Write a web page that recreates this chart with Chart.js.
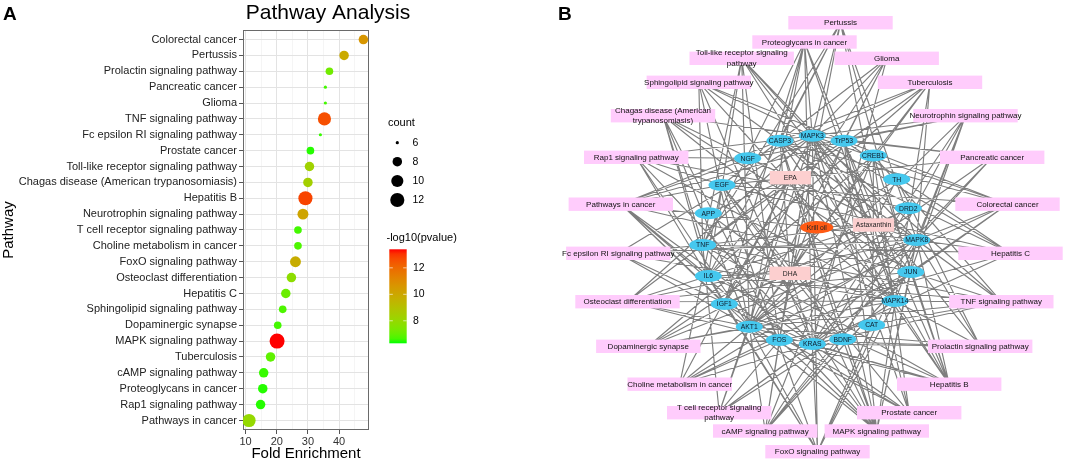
<!DOCTYPE html>
<html><head><meta charset="utf-8">
<script src="https://cdn.jsdelivr.net/npm/chart.js@4.4.0/dist/chart.umd.min.js"></script>
<style>
html,body{margin:0;padding:0;background:#fff;width:1065px;height:463px;overflow:hidden;font-family:"Liberation Sans",Arial,sans-serif;}
#wa{position:absolute;left:0;top:0;width:550px;height:463px;}
#wb{position:absolute;left:550px;top:0;width:515px;height:463px;}
</style></head><body>
<div id="wa"><canvas id="ca" width="550" height="463"></canvas></div>
<div id="wb"><canvas id="cb" width="515" height="463"></canvas></div>
<script>
// ---------------- Panel A data ----------------
const categories = ["Colorectal cancer","Pertussis","Prolactin signaling pathway","Pancreatic cancer","Glioma","TNF signaling pathway","Fc epsilon RI signaling pathway","Prostate cancer","Toll-like receptor signaling pathway","Chagas disease (American trypanosomiasis)","Hepatitis B","Neurotrophin signaling pathway","T cell receptor signaling pathway","Choline metabolism in cancer","FoxO signaling pathway","Osteoclast differentiation","Hepatitis C","Sphingolipid signaling pathway","Dopaminergic synapse","MAPK signaling pathway","Tuberculosis","cAMP signaling pathway","Proteoglycans in cancer","Rap1 signaling pathway","Pathways in cancer"];
const foldEnrichment = [47.8,41.6,36.9,35.6,35.6,35.3,34.0,30.8,30.5,30.0,29.2,28.4,26.8,26.8,26.0,24.7,22.9,21.9,20.3,20.1,18.0,15.8,15.5,14.8,11.1];
const geneCount = [8,8,7,6,6,11,6,7,8,8,12,9,7,7,9,8,8,7,7,13,8,8,8,8,11];
const negLog10P = [10.6,9.9,7.2,6.6,6.6,12.6,6.5,6.4,8.3,8.4,12.8,10.1,6.6,6.7,9.8,7.8,7.1,6.7,6.6,13.4,6.9,6.5,6.4,6.4,8.0];
const xTickValues = [10,15,20,25,30,35,40,45];
const countLegendValues = [6,8,10,12];
const colorbarLabels = [8,10,12];
const pRange = [6.3,13.4];

// ---------------- Panel B data ----------------
const networkPathways = ["Pertussis","Proteoglycans in cancer","Toll-like receptor signaling\npathway","Glioma","Sphingolipid signaling pathway","Tuberculosis","Chagas disease (American\ntrypanosomiasis)","Neurotrophin signaling pathway","Rap1 signaling pathway","Pancreatic cancer","Pathways in cancer","Colorectal cancer","Fc epsilon RI signaling pathway","Hepatitis C","Osteoclast differentiation","TNF signaling pathway","Dopaminergic synapse","Prolactin signaling pathway","Choline metabolism in cancer","Hepatitis B","T cell receptor signaling\npathway","Prostate cancer","cAMP signaling pathway","MAPK signaling pathway","FoxO signaling pathway"];
const pathwayNodeX = [840.5,804.5,741.7,886.7,698.8,930,663,965.5,636.2,992.2,620.8,1007.5,618.3,1010.5,627.5,1001.3,648.3,980.2,679.7,949.2,719.2,909.2,765.2,876.8,817.5];
const pathwayNodeY = [22.7,42,58.3,58.3,82.3,82.3,115.7,115.7,157.3,157.3,204.2,204.2,253.3,253.3,301.7,301.7,346.3,346.3,384.2,384.2,412.7,412.7,431,431,451.7];
const pathwayGenes = [
 ["MAPK3","CASP3","TNF","MAPK8","IL6","JUN","MAPK14","FOS"],
 ["MAPK3","CASP3","TrP53","TNF","IGF1","MAPK14","AKT1","KRAS"],
 ["MAPK3","TNF","MAPK8","IL6","JUN","MAPK14","AKT1","FOS"],
 ["MAPK3","TrP53","EGF","IGF1","AKT1","KRAS"],
 ["MAPK3","TrP53","TNF","MAPK8","MAPK14","AKT1","KRAS"],
 ["MAPK3","CASP3","CREB1","TNF","MAPK8","IL6","MAPK14","AKT1"],
 ["MAPK3","TNF","MAPK8","IL6","JUN","MAPK14","AKT1","FOS"],
 ["MAPK3","TrP53","NGF","MAPK8","JUN","MAPK14","AKT1","KRAS","BDNF"],
 ["MAPK3","NGF","EGF","IGF1","MAPK14","AKT1","KRAS","DRD2"],
 ["MAPK3","TrP53","EGF","MAPK8","AKT1","KRAS"],
 ["MAPK3","CASP3","TrP53","EGF","IL6","MAPK8","JUN","IGF1","AKT1","FOS","KRAS"],
 ["MAPK3","CASP3","TrP53","EGF","MAPK8","JUN","AKT1","KRAS"],
 ["MAPK3","TNF","MAPK8","MAPK14","AKT1","KRAS"],
 ["MAPK3","CASP3","TrP53","EGF","TNF","MAPK8","AKT1","KRAS"],
 ["MAPK3","TNF","MAPK8","JUN","MAPK14","AKT1","FOS","IL6"],
 ["MAPK3","CASP3","CREB1","TNF","MAPK8","IL6","JUN","MAPK14","AKT1","FOS","KRAS"],
 ["CREB1","TH","DRD2","MAPK8","MAPK14","AKT1","FOS"],
 ["MAPK3","MAPK8","MAPK14","AKT1","FOS","KRAS","TH"],
 ["MAPK3","EGF","MAPK8","JUN","AKT1","FOS","KRAS"],
 ["MAPK3","CASP3","TrP53","CREB1","TNF","MAPK8","IL6","JUN","MAPK14","AKT1","FOS","KRAS"],
 ["MAPK3","TNF","MAPK14","AKT1","FOS","KRAS","JUN"],
 ["MAPK3","TrP53","CREB1","EGF","IGF1","AKT1","KRAS"],
 ["MAPK3","CREB1","DRD2","MAPK8","JUN","AKT1","FOS","BDNF"],
 ["MAPK3","CASP3","TrP53","NGF","EGF","TNF","MAPK8","JUN","MAPK14","AKT1","FOS","KRAS","BDNF"],
 ["MAPK3","EGF","MAPK8","IL6","MAPK14","AKT1","KRAS","CAT","IGF1"]
];
const geneNames = ["MAPK3","CASP3","TrP53","CREB1","NGF","TH","EGF","DRD2","APP","MAPK8","TNF","JUN","IL6","MAPK14","IGF1","CAT","AKT1","BDNF","FOS","KRAS"];
const geneNodeX = [812.3,780,844,873.3,747.7,896.7,722,908.3,708.3,916.7,702.7,910.7,708.3,895,724.3,871.7,749.3,842.7,779.3,812.3];
const geneNodeY = [135.7,140.7,140.7,155.5,158.3,179.3,185,208.3,213.3,240,245,272,276,301,304,325,326.7,339.3,340,344];
const compoundNames = ["EPA","Astaxanthin","DHA"];
const compoundX = [790.3,873.5,790];
const compoundY = [177.7,225,273.3];
const compoundTargets = [
 ["MAPK3","CASP3","TrP53","NGF","EGF","APP","TNF","IL6","JUN","AKT1","BDNF","MAPK8","IGF1"],
 ["CASP3","TrP53","TNF","IL6","MAPK8","JUN","MAPK14","AKT1","CAT","TH","DRD2","MAPK3","CREB1"],
 ["MAPK3","CASP3","TrP53","APP","TNF","IL6","IGF1","AKT1","FOS","BDNF","CREB1","MAPK14","KRAS","EGF"]
];
const sourceName = "Krill oil";
const sourceX = 816.7, sourceY = 227.3;

// ---------------- helpers (styling) ----------------
function toLab(rgb){
  const lin = rgb.map(c=>{c/=255;return c<=0.04045?c/12.92:Math.pow((c+0.055)/1.055,2.4);});
  const X=(0.4124564*lin[0]+0.3575761*lin[1]+0.1804375*lin[2])/0.95047;
  const Y=(0.2126729*lin[0]+0.7151522*lin[1]+0.0721750*lin[2]);
  const Z=(0.0193339*lin[0]+0.1191920*lin[1]+0.9503041*lin[2])/1.08883;
  const f=t=>t>0.008856?Math.cbrt(t):7.787*t+16/116;
  const fx=f(X),fy=f(Y),fz=f(Z);
  return [116*fy-16,500*(fx-fy),200*(fy-fz)];
}
function fromLab(lab){
  const fy=(lab[0]+16)/116, fx=fy+lab[1]/500, fz=fy-lab[2]/200;
  const inv=t=>{const t3=t*t*t;return t3>0.008856?t3:(t-16/116)/7.787;};
  const X=inv(fx)*0.95047,Y=inv(fy),Z=inv(fz)*1.08883;
  const r=3.2404542*X-1.5371385*Y-0.4985314*Z;
  const g=-0.9692660*X+1.8760108*Y+0.0415560*Z;
  const b=0.0556434*X-0.2040259*Y+1.0572252*Z;
  return [r,g,b].map(c=>{c=c<=0.0031308?12.92*c:1.055*Math.pow(c,1/2.4)-0.055;return Math.round(Math.max(0,Math.min(1,c))*255);});
}
const labLow = toLab([0,255,0]), labHigh = toLab([255,0,0]);
function pColor(v){
  let t=(v-pRange[0])/(pRange[1]-pRange[0]); t=Math.max(0,Math.min(1,t));
  const l=[0,1,2].map(k=>labLow[k]+(labHigh[k]-labLow[k])*t);
  const c=fromLab(l); return `rgb(${c[0]},${c[1]},${c[2]})`;
}
function radiusFor(c){ return 1.6 + 5.9*Math.sqrt(Math.max(0,c-6)/7); }

const FONT = "'Liberation Sans', Arial, Helvetica, sans-serif";
Chart.defaults.font.family = FONT;
Chart.defaults.animation = false;

// ---------------- Panel A ----------------
const panelAPlugin = {
  id:'panelA',
  beforeDatasetsDraw(chart){
    const {ctx, chartArea:a} = chart;
    ctx.save();
    ctx.strokeStyle='#6a6a6a'; ctx.lineWidth=1;
    ctx.strokeRect(a.left+0.5,a.top+0.5,a.right-a.left-1,a.bottom-a.top-1);
    ctx.restore();
  },
  afterDraw(chart){
    const ctx = chart.ctx;
    ctx.save();
    ctx.fillStyle='#000';
    ctx.font=`bold 19px ${FONT}`; ctx.textAlign='left'; ctx.textBaseline='alphabetic';
    ctx.fillText('A',3,20);
    ctx.font=`21px ${FONT}`; ctx.textAlign='center';
    ctx.fillText('Pathway Analysis',328,19);
    // count legend
    ctx.textAlign='left'; ctx.textBaseline='middle';
    ctx.font=`11px ${FONT}`; ctx.fillStyle='#000';
    ctx.fillText('count',388,123);
    const ly=[142.7,161.7,181,200];
    countLegendValues.forEach((v,i)=>{
      ctx.beginPath(); ctx.fillStyle='#000';
      ctx.arc(397.3,ly[i],radiusFor(v),0,Math.PI*2); ctx.fill();
      ctx.font=`10.5px ${FONT}`;
      ctx.fillText(String(v),412.5,ly[i]);
    });
    // colorbar
    ctx.font=`11px ${FONT}`;
    ctx.fillText('-log10(pvalue)',386.5,238);
    const bx=389.3,bw=17.4,bt=249.3,bb=343.3;
    const grd=ctx.createLinearGradient(0,bb,0,bt);
    for(let k=0;k<=20;k++){ grd.addColorStop(k/20,pColor(pRange[0]+(pRange[1]-pRange[0])*k/20)); }
    ctx.fillStyle=grd; ctx.fillRect(bx,bt,bw,bb-bt);
    colorbarLabels.forEach(v=>{
      const y=bb-(v-pRange[0])/(pRange[1]-pRange[0])*(bb-bt);
      ctx.strokeStyle='rgba(255,255,255,0.8)'; ctx.lineWidth=0.8;
      ctx.beginPath(); ctx.moveTo(bx,y); ctx.lineTo(bx+3.5,y); ctx.moveTo(bx+bw-3.5,y); ctx.lineTo(bx+bw,y); ctx.stroke();
      ctx.fillStyle='#000'; ctx.font=`10.5px ${FONT}`;
      ctx.fillText(String(v),413,y);
    });
    ctx.restore();
  }
};

new Chart(document.getElementById('ca'),{
  type:'bubble',
  data:{datasets:[{
    data: categories.map((c,i)=>({x:foldEnrichment[i],y:i,r:radiusFor(geneCount[i])})),
    backgroundColor: negLog10P.map(pColor),
    borderWidth:0
  }]},
  options:{
    responsive:false, events:[],
    layout:{padding:{top:30,right:181,bottom:0,left:0}},
    plugins:{legend:{display:false},tooltip:{enabled:false}},
    scales:{
      x:{type:'linear',min:9.16,max:49.6,bounds:'data',
        afterBuildTicks:s=>{s.ticks=xTickValues.map(v=>({value:v}));},
        afterFit:s=>{s.height=33;},
        border:{display:false},
        grid:{color:c=>c.tick&&c.tick.value%10===0?'#E3E3E3':'#F1F1F1',
              lineWidth:c=>c.tick&&c.tick.value%10===0?1:0.7,
              tickColor:c=>c.tick&&c.tick.value%10===0?'#555':'rgba(0,0,0,0)',tickLength:4},
        ticks:{padding:1,maxRotation:0,autoSkip:false,color:'#333',font:{size:11},
               callback:v=>v%10===0?String(v):''},
        title:{display:true,text:'Fold Enrichment',color:'#000',font:{size:15},padding:{top:0,bottom:0}}
      },
      y:{type:'linear',min:-0.6,max:24.6,reverse:true,bounds:'data',
        afterBuildTicks:s=>{s.ticks=categories.map((c,i)=>({value:i}));},
        afterFit:s=>{s.width=243;},
        border:{display:false},
        grid:{color:'#E3E3E3',lineWidth:1,tickColor:'#555',tickLength:4},
        ticks:{padding:2,autoSkip:false,color:'#222',font:{size:11},
               callback:v=>categories[Math.round(v)]},
        title:{display:true,text:'Pathway',color:'#000',font:{size:15},padding:{top:0,bottom:0}}
      }
    }
  },
  plugins:[panelAPlugin]
});

// ---------------- Panel B ----------------
const geneIndex = {}; geneNames.forEach((g,i)=>geneIndex[g]=i);
const edgePoints = [];
function addEdge(x1,y1,x2,y2){ edgePoints.push({x:x1,y:y1},{x:x2,y:y2},{x:null,y:null}); }
pathwayGenes.forEach((gs,p)=>gs.forEach(g=>{const k=geneIndex[g]; addEdge(pathwayNodeX[p],pathwayNodeY[p],geneNodeX[k],geneNodeY[k]);}));
compoundTargets.forEach((gs,c)=>gs.forEach(g=>{const k=geneIndex[g]; addEdge(compoundX[c],compoundY[c],geneNodeX[k],geneNodeY[k]);}));
compoundNames.forEach((n,c)=>addEdge(sourceX,sourceY,compoundX[c],compoundY[c]));

const panelBPlugin = {
  id:'panelB',
  afterDatasetsDraw(chart){
    const ctx=chart.ctx, xs=chart.scales.x, ys=chart.scales.y;
    const px=v=>xs.getPixelForValue(v), py=v=>ys.getPixelForValue(v);
    ctx.save();
    ctx.textAlign='center'; ctx.textBaseline='middle';
    networkPathways.forEach((name,i)=>{
      const x=px(pathwayNodeX[i]), y=py(pathwayNodeY[i]);
      ctx.fillStyle='#FFCCFC'; ctx.fillRect(x-52.2,y-6.7,104.4,13.4);
      ctx.fillStyle='#111'; ctx.font=`8px ${FONT}`;
      const lines=name.split('\n');
      if(lines.length===1) ctx.fillText(name,x,y+0.5);
      else { ctx.fillText(lines[0],x,y-5.2); ctx.fillText(lines[1],x,y+5.4); }
    });
    compoundNames.forEach((name,i)=>{
      const x=px(compoundX[i]), y=py(compoundY[i]);
      ctx.fillStyle='#FCCFCF'; ctx.fillRect(x-20.6,y-6.7,41.2,13.4);
      ctx.fillStyle='#222'; ctx.font=`6.8px ${FONT}`;
      ctx.fillText(name,x,y+0.5);
    });
    geneNames.forEach((name,i)=>{
      const x=px(geneNodeX[i]), y=py(geneNodeY[i]);
      ctx.beginPath(); ctx.fillStyle='#45C8EE';
      ctx.ellipse(x,y,13.5,6,0,0,Math.PI*2); ctx.fill();
      ctx.fillStyle='#0d1a2a'; ctx.font=`6.8px ${FONT}`;
      ctx.fillText(name,x,y+0.5);
    });
    const sx=px(sourceX), sy=py(sourceY);
    ctx.beginPath(); ctx.fillStyle='#FF5A14';
    ctx.ellipse(sx,sy,16.5,6.2,0,0,Math.PI*2); ctx.fill();
    ctx.fillStyle='#222'; ctx.font=`6.8px ${FONT}`;
    ctx.fillText(sourceName,sx,sy+0.5);
    ctx.fillStyle='#000'; ctx.font=`bold 19px ${FONT}`; ctx.textAlign='left'; ctx.textBaseline='alphabetic';
    ctx.fillText('B',8,20);
    ctx.restore();
  }
};

new Chart(document.getElementById('cb'),{
  type:'scatter',
  data:{datasets:[{data:edgePoints,showLine:true,spanGaps:false,borderColor:'#7e7e7e',borderWidth:1.15,pointRadius:0}]},
  options:{
    responsive:false, events:[],
    layout:{padding:0},
    plugins:{legend:{display:false},tooltip:{enabled:false}},
    scales:{
      x:{type:'linear',min:550,max:1065,display:false},
      y:{type:'linear',min:0,max:463,reverse:true,display:false}
    }
  },
  plugins:[panelBPlugin]
});
</script>
</body></html>
